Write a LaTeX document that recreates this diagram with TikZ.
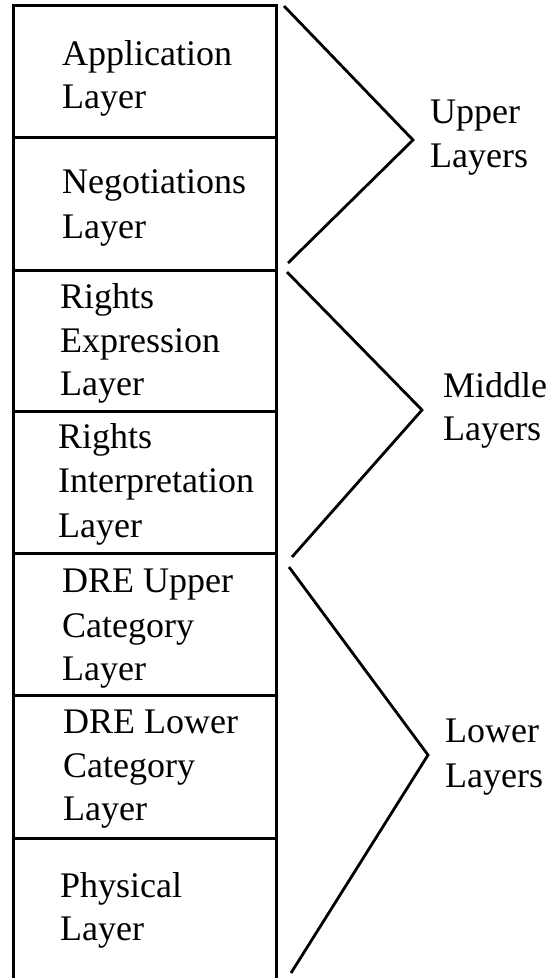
\documentclass[tikz,border=0pt]{standalone}
\usepackage{fontspec}
\setmainfont{Liberation Serif}
\begin{document}
\begin{tikzpicture}[x=1pt,y=-1pt,
  layerbox/.style={draw=black, line width=3pt, minimum width=263pt, inner sep=0pt},
  txt/.style={anchor=base west, inner sep=0pt, font=\fontsize{36}{44}\selectfont},
  brace/.style={draw=black, line width=2.8pt, line join=miter}]
\useasboundingbox (0,0) rectangle (552,978);
\clip (0,0) rectangle (552,978);

% stacked layer boxes
\node[layerbox, minimum height=131.5pt] (app)  at (145.2,71.25)  {};
\node[layerbox, minimum height=133pt]   (neg)  at (145.2,203.5)  {};
\node[layerbox, minimum height=141.5pt] (rexp) at (145.2,340.75) {};
\node[layerbox, minimum height=142pt]   (rint) at (145.2,482.5)  {};
\node[layerbox, minimum height=141.5pt] (dreu) at (145.2,624.25) {};
\node[layerbox, minimum height=143.5pt] (drel) at (145.2,766.75) {};
\node[layerbox, minimum height=151.5pt] (phys) at (145.2,914.25) {};

% layer names
\node[txt] (app1)  at (62,65)  {Application};
\node[txt] (app2)  at (62,108) {Layer};
\node[txt] (neg1)  at (62,193) {Negotiations};
\node[txt] (neg2)  at (62,238) {Layer};
\node[txt] (rexp1) at (60,308) {Rights};
\node[txt] (rexp2) at (60,352) {Expression};
\node[txt] (rexp3) at (60,395) {Layer};
\node[txt] (rint1) at (58,448) {Rights};
\node[txt] (rint2) at (58,492) {Interpretation};
\node[txt] (rint3) at (58,537) {Layer};
\node[txt] (dreu1) at (62,592) {DRE Upper};
\node[txt] (dreu2) at (62,637) {Category};
\node[txt] (dreu3) at (62,680) {Layer};
\node[txt] (drel1) at (63,733) {DRE Lower};
\node[txt] (drel2) at (63,777) {Category};
\node[txt] (drel3) at (63,820) {Layer};
\node[txt] (phys1) at (60,897) {Physical};
\node[txt] (phys2) at (60,940) {Layer};

% group brackets
\coordinate (ua) at (284,6);
\coordinate (ub) at (413,140);
\coordinate (uc) at (288,263);
\coordinate (ma) at (287,272);
\coordinate (mb) at (422,410);
\coordinate (mc) at (292,557);
\coordinate (la) at (289,567);
\coordinate (lb) at (428,755);
\coordinate (lc) at (291,973);
\draw[brace] (ua) -- (ub) -- (uc);
\draw[brace] (ma) -- (mb) -- (mc);
\draw[brace] (la) -- (lb) -- (lc);

% group names
\node[txt] (up1)  at (430,123) {Upper};
\node[txt] (up2)  at (430,167) {Layers};
\node[txt] (mid1) at (443,397) {Middle};
\node[txt] (mid2) at (443,440) {Layers};
\node[txt] (low1) at (445,742) {Lower};
\node[txt] (low2) at (445,787) {Layers};
\end{tikzpicture}
\end{document}
